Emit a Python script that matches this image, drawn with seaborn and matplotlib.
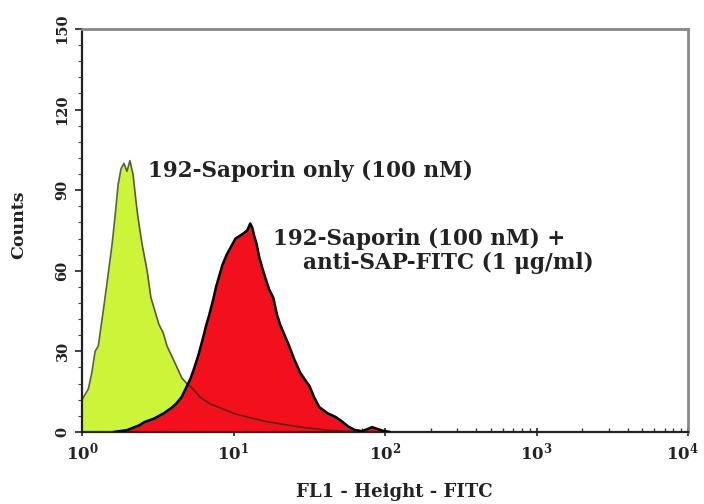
import numpy as np
import pandas as pd
import seaborn as sns
import matplotlib
matplotlib.use("Agg")
import matplotlib.pyplot as plt
import matplotlib.transforms as mtransforms
from matplotlib.ticker import FixedLocator, MultipleLocator, NullFormatter

# ---- data (FL1 fluorescence, counts) ----
green_fl = [1.00, 1.10, 1.16, 1.22, 1.28, 1.38, 1.49, 1.58, 1.65, 1.73, 1.81, 1.89,
            1.98, 2.07, 2.17, 2.27, 2.34, 2.49, 2.69, 2.85, 3.03, 3.22, 3.43, 3.64,
            3.93, 4.24, 4.57, 4.93, 5.41, 6.01, 7.00, 8.15, 9.93, 12.3, 16.1, 22.5,
            30.5, 41.4, 58.7, 79.6]
green_counts = [12, 16, 22, 30, 32, 45, 59, 70, 80, 92, 98, 100,
                97, 101, 96, 86, 80, 70, 60, 50, 45, 40, 37, 32,
                28, 24, 20, 18, 16, 13, 10.5, 9, 7, 5.6, 4, 2.6,
                1.5, 0.7, 0.2, 0]

red_fl = [1.62, 1.98, 2.39, 2.58, 2.99, 3.47, 3.90, 4.21, 4.54, 4.89, 5.21, 5.52,
          5.89, 6.29, 6.62, 6.87, 7.32, 7.67, 8.04, 8.43, 9.01, 9.64, 10.3, 11.0,
          11.7, 12.3, 12.9, 13.3, 13.7, 14.2, 14.8, 15.5, 16.3, 17.2, 18.3, 19.3,
          20.3, 21.4, 23.3, 25.2, 27.6, 31.8, 34.0, 36.8, 41.7, 47.2, 52.3, 57.3,
          62.9, 70.3, 76.0, 82.2, 96.0, 108]
red_counts = [0, 0.7, 2.5, 3.7, 5, 7, 9, 10.7, 13, 16.7, 20, 24,
              29, 35, 40, 43, 49, 54, 58, 62, 66, 69, 72, 73,
              74, 75, 77.6, 76, 73, 70, 65, 61, 57, 53, 50, 44,
              40, 37, 32, 27, 22, 17, 13, 9.3, 7, 5.6, 3.8, 2,
              0.8, 0.3, 1.0, 1.8, 0.5, 0]

y_ticks = [0, 30, 60, 90, 120, 150]
x_ticks = [1, 10, 100, 1000, 10000]
x_tick_labels = [r"$\mathbf{10^{0}}$", r"$\mathbf{10^{1}}$", r"$\mathbf{10^{2}}$",
                 r"$\mathbf{10^{3}}$", r"$\mathbf{10^{4}}$"]

sns.set_theme(style="white")
plt.rcParams["font.family"] = ["DejaVu Serif"]
plt.rcParams["mathtext.fontset"] = "dejavuserif"

TXT = "#222222"

green_df = pd.DataFrame({"fl": green_fl, "counts": green_counts})
red_df = pd.DataFrame({"fl": red_fl, "counts": red_counts})

fig = plt.figure(figsize=(7.04, 5.04), dpi=100)
ax = fig.add_axes([0.1165, 0.1429, 0.8608, 0.7996])
ax.set_xscale("log")

green_fill = "#ccf53a"
red_fill = "#f2101c"

ax.fill_between(green_df["fl"], green_df["counts"], 0, color=green_fill, lw=0, zorder=1)
ax.fill_between(red_df["fl"], red_df["counts"], 0, color=red_fill, lw=0, zorder=2)
sns.lineplot(data=green_df, x="fl", y="counts", ax=ax, color="#2a2a10", lw=1.2,
             alpha=0.75, sort=False, zorder=3)
sns.lineplot(data=red_df, x="fl", y="counts", ax=ax, color="black", lw=1.8,
             sort=False, zorder=4)

ax.set_xlim(1, 10000)
ax.set_ylim(0, 150)

# spines
for side in ["top", "right"]:
    ax.spines[side].set_color("#888888")
    ax.spines[side].set_linewidth(2.0)
for side in ["left", "bottom"]:
    ax.spines[side].set_color(TXT)
    ax.spines[side].set_linewidth(1.6)

# ticks
ax.xaxis.set_major_locator(FixedLocator(x_ticks))
ax.set_xticklabels(x_tick_labels)
minor_x = [m * 10 ** d for d in range(4) for m in range(2, 10)]
ax.xaxis.set_minor_locator(FixedLocator(minor_x))
ax.xaxis.set_minor_formatter(NullFormatter())
ax.tick_params(axis="x", which="major", direction="inout", length=6, width=1.2,
               colors=TXT, labelsize=12, pad=4, bottom=True)
ax.tick_params(axis="x", which="minor", direction="in", length=3, width=1.0,
               colors="#333333", bottom=True)
last = ax.get_xticklabels()[-1]
last.set_transform(last.get_transform() +
                   mtransforms.ScaledTranslation(-4 / 72, 0, fig.dpi_scale_trans))

ax.set_yticks(y_ticks)
ax.set_yticklabels([str(v) for v in y_ticks], rotation=90, va="center",
                   fontweight="bold")
ax.yaxis.set_minor_locator(MultipleLocator(6))
ax.tick_params(axis="y", which="major", direction="out", length=5, width=1.2,
               colors=TXT, labelsize=10.5, pad=4, left=True)
ax.tick_params(axis="y", which="minor", direction="out", length=3, width=0.8,
               colors="#444444", left=True)

ax.set_xlabel("FL1 - Height - FITC", fontsize=13, fontweight="bold", color=TXT)
ax.xaxis.set_label_coords(0.515, -0.127)
ax.set_ylabel("Counts", fontsize=12.5, fontweight="bold", color=TXT)
ax.yaxis.set_label_coords(-0.090, 0.514)

# annotations
ax.text(2.73, 97.3, "192-Saporin only (100 nM)", fontsize=15.5, fontweight="bold",
        color=TXT, ha="left", va="center")
ax.text(18.2, 72.0, "192-Saporin (100 nM) +", fontsize=15.5, fontweight="bold",
        color=TXT, ha="left", va="center")
ax.text(28.8, 63.0, "anti-SAP-FITC (1 \u03bcg/ml)", fontsize=15.5, fontweight="bold",
        color=TXT, ha="left", va="center")

fig.savefig("out.png", dpi=100)
